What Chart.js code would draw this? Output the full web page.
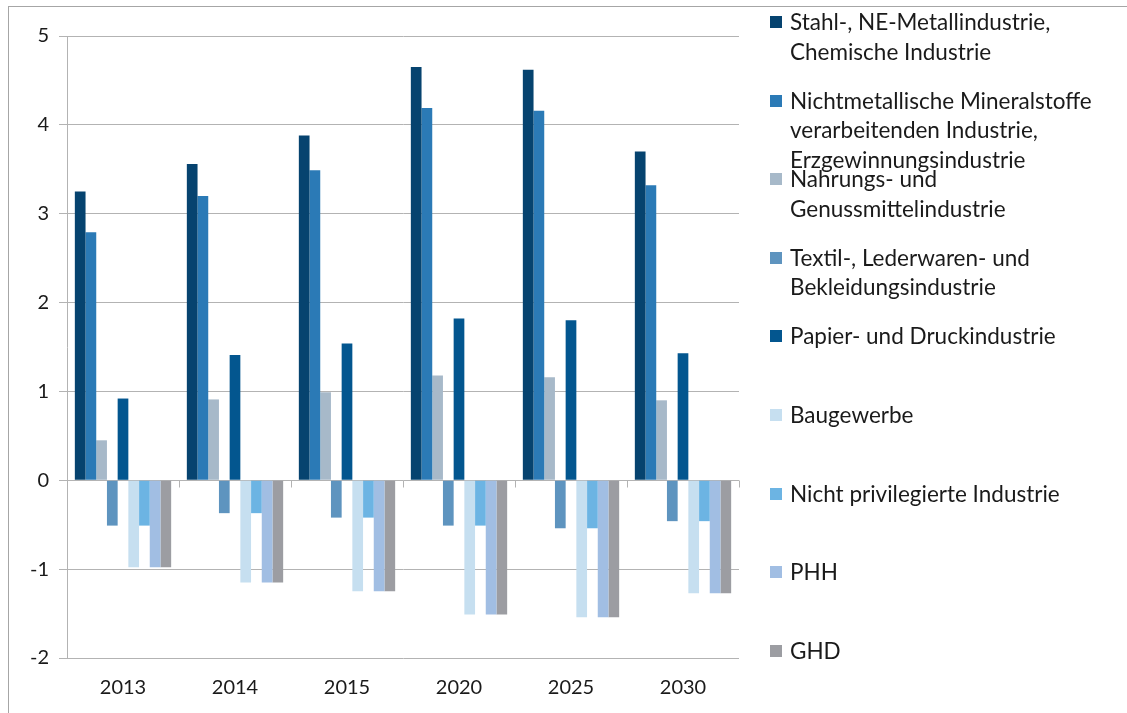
<!DOCTYPE html>
<html>
<head>
<meta charset="utf-8">
<script src="https://cdn.jsdelivr.net/npm/chart.js@4"></script>
<style>
  html, body { margin:0; padding:0; background:#fff; }
  #wrap { position:relative; width:1127px; height:713px; overflow:hidden; }
  #frame { position:absolute; left:8px; top:6px; width:1200px; height:800px; border:1px solid #a6a6a6; }
  #chart { position:absolute; left:0; top:0; }
  #legend { position:absolute; left:0; top:0; font-family:Lato, 'Open Sans', sans-serif; font-size:22.5px; color:#1a1a1a; }
  .item { position:absolute; left:770px; line-height:29.5px; white-space:nowrap; }
  .box { position:absolute; left:0; top:9px; width:12px; height:12px; }
  .txt { position:absolute; left:20px; top:0; }
</style>
</head>
<body>
<div id="wrap">
  <div id="frame"></div>
  <canvas id="chart" width="1127" height="713"></canvas>
  <div id="legend"></div>
</div>
<script>
const years = ['2013', '2014', '2015', '2020', '2025', '2030'];

const seriesLabels = [
  ['Stahl-, NE-Metallindustrie,', 'Chemische Industrie'],
  ['Nichtmetallische Mineralstoffe', 'verarbeitenden Industrie,', 'Erzgewinnungsindustrie'],
  ['Nahrungs- und', 'Genussmittelindustrie'],
  ['Textil-, Lederwaren- und', 'Bekleidungsindustrie'],
  ['Papier- und Druckindustrie'],
  ['Baugewerbe'],
  ['Nicht privilegierte Industrie'],
  ['PHH'],
  ['GHD'],
];
const seriesColors = ['#06436f', '#2b7ab6', '#a7b9c9', '#5e94bf', '#03568f', '#c6dff0', '#6cb4e3', '#a1bee3', '#9c9da2'];

const stahl       = [3.25, 3.56, 3.88, 4.65, 4.62, 3.70];
const nichtmetall = [2.79, 3.20, 3.49, 4.19, 4.16, 3.32];
const nahrung     = [0.45, 0.91, 0.99, 1.18, 1.16, 0.90];
const textil      = [-0.51, -0.37, -0.42, -0.51, -0.54, -0.46];
const papier      = [0.92, 1.41, 1.54, 1.82, 1.80, 1.43];
const bau         = [-0.98, -1.15, -1.25, -1.51, -1.54, -1.27];
const nichtPriv   = [-0.51, -0.37, -0.42, -0.51, -0.54, -0.46];
const phh         = [-0.98, -1.15, -1.25, -1.51, -1.54, -1.27];
const ghd         = [-0.98, -1.15, -1.25, -1.51, -1.54, -1.27];

const seriesData = [stahl, nichtmetall, nahrung, textil, papier, bau, nichtPriv, phh, ghd];

const yMin = -2, yMax = 5;
const gridCol = '#b3b3b3';
const font = "Lato, 'Open Sans', sans-serif";

// small tick marks on the zero line between categories (like Excel's axis)
const zeroTicks = {
  id: 'zeroTicks',
  afterDatasetsDraw(chart) {
    const { ctx, scales: { x, y } } = chart;
    const y0 = Math.round(y.getPixelForValue(0)) + 0.5;
    const half = (x.getPixelForValue(1) - x.getPixelForValue(0)) / 2;
    ctx.save();
    ctx.strokeStyle = gridCol;
    ctx.lineWidth = 1;
    ctx.beginPath();
    for (let i = 0; i <= years.length; i++) {
      const px = Math.round(x.getPixelForValue(i) - half) + 0.5;
      ctx.moveTo(px, y0);
      ctx.lineTo(px, y0 + 7);
    }
    ctx.stroke();
    ctx.restore();
  }
};

new Chart(document.getElementById('chart'), {
  type: 'bar',
  data: {
    labels: years,
    datasets: seriesData.map((d, i) => ({
      label: seriesLabels[i].join(' '),
      data: d,
      backgroundColor: seriesColors[i],
      borderWidth: 0,
      categoryPercentage: 0.86,
      barPercentage: 1,
    }))
  },
  options: {
    responsive: false,
    animation: false,
    layout: { padding: { left: 10, top: 36, right: 388, bottom: 0 } },
    plugins: { legend: { display: false }, tooltip: { enabled: false } },
    scales: {
      x: {
        grid: { display: false, drawTicks: false },
        border: { display: false },
        ticks: { color: '#1a1a1a', font: { family: font, size: 20 }, padding: 18 },
        afterFit: s => { s.height = 55; }
      },
      y: {
        min: yMin, max: yMax,
        grid: { color: gridCol, tickLength: 8, tickColor: gridCol },
        border: { color: gridCol },
        ticks: { stepSize: 1, color: '#1a1a1a', font: { family: font, size: 20 }, padding: 10 },
        afterFit: s => { s.width = 57; }
      }
    }
  },
  plugins: [zeroTicks]
});

const legend = document.getElementById('legend');
seriesLabels.forEach((lines, i) => {
  const item = document.createElement('div');
  item.className = 'item';
  item.style.top = (22 + i * 78.6 - 15) + 'px';
  const box = document.createElement('span');
  box.className = 'box';
  box.style.background = seriesColors[i];
  const txt = document.createElement('span');
  txt.className = 'txt';
  txt.innerHTML = lines.join('<br>');
  item.appendChild(box);
  item.appendChild(txt);
  legend.appendChild(item);
});
</script>
</body>
</html>
